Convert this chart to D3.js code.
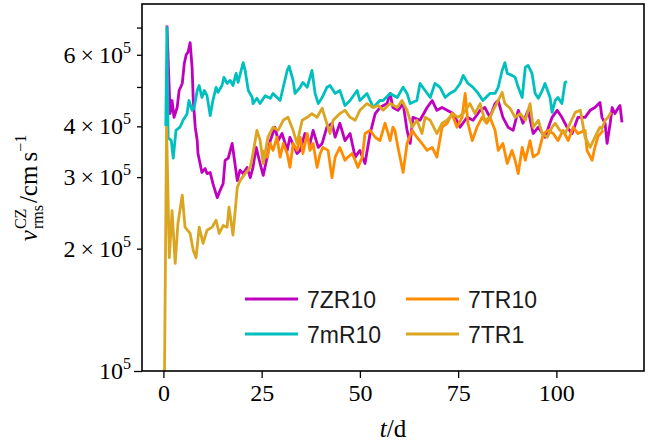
<!DOCTYPE html>
<html>
<head>
<meta charset="utf-8">
<script src="https://cdn.jsdelivr.net/npm/d3@7"></script>
<style>
  body { margin: 0; background: #fff; }
</style>
</head>
<body>
<svg id="chart" width="657" height="445"></svg>
<script>
// Convective-zone rms velocity, in units of 1e5 cm/s, against time in days.
const UNIT = 1e5;

const seriesNames  = ["7ZR10", "7mR10", "7TR10", "7TR1"];
const seriesColors = ["#bf00bf", "#00bfbf", "#ff8c00", "#daa520"];

// [t (d), v (1e5 cm/s)]
const zr10 = [
  [0.9,7.08],[1.7,4.30],[2.2,4.63],[2.7,4.21],[3.5,4.45],[4.0,4.90],[4.8,5.10],[5.3,5.70],
  [5.8,6.00],[6.3,6.10],[6.8,6.43],[7.3,5.58],[7.6,4.63],[8.1,3.98],[8.6,3.69],[8.8,3.43],
  [9.8,3.08],[10.6,3.15],[11.1,3.06],[11.9,3.08],[12.6,2.89],[13.7,2.67],[14.4,2.78],[15.2,2.89],
  [15.7,3.30],[16.5,3.34],[17.5,3.63],[18.2,3.24],[18.8,2.94],[19.5,3.12],[20.3,3.06],[21.3,3.17],
  [22.1,2.99],[22.8,3.17],[23.6,3.55],[24.6,3.24],[25.4,3.03],[26.4,3.36],[27.2,3.69],[28.4,3.98],
  [29.2,3.69],[30.2,3.84],[31.5,3.49],[32.2,3.76],[34.0,3.43],[34.8,3.49],[36.0,3.84],[37.3,3.63],
  [38.1,3.91],[39.4,3.55],[40.4,3.63],[41.6,3.98],[42.9,4.07],[43.7,3.76],[44.9,4.07],[46.2,3.69],
  [47.5,3.84],[48.8,3.36],[50.0,3.49],[51.3,3.24],[52.6,3.84],[53.9,4.30],[55.1,4.45],[56.9,4.55],
  [57.7,4.82],[58.4,4.45],[59.7,4.38],[61.0,4.55],[62.0,3.91],[62.8,3.63],[63.5,4.21],[65.3,4.14],
  [67.1,4.45],[68.4,4.63],[69.6,4.38],[70.9,4.45],[72.2,4.38],[73.7,4.30],[75.5,3.98],[77.3,4.21],
  [78.8,4.14],[80.6,4.38],[81.8,4.45],[83.1,4.21],[84.4,4.55],[85.2,4.63],[86.4,4.21],[87.7,3.98],
  [89.0,3.91],[90.3,4.38],[91.5,4.07],[92.8,4.38],[94.1,3.84],[95.4,3.98],[97.1,3.76],[98.9,4.21],
  [100.2,4.38],[101.4,4.21],[102.7,3.98],[104.0,3.84],[105.5,4.21],[107.3,4.21],[108.6,4.38],[109.8,4.45],
  [111.1,4.58],[111.6,4.21],[112.4,4.07],[112.9,3.63],[113.7,4.07],[114.2,4.45],[114.9,4.30],[115.7,4.43],
  [116.2,4.50],[116.7,4.09]
];

const mr10 = [
  [0.6,4.00],[0.9,7.00],[1.2,3.75],[2.0,3.69],[2.5,3.34],[3.2,3.91],[4.2,3.98],[5.0,4.14],
  [6.0,4.29],[6.5,4.63],[7.3,4.38],[7.8,4.43],[8.6,4.90],[9.1,5.04],[9.8,4.71],[10.4,4.90],
  [11.1,4.76],[11.9,4.25],[12.6,4.63],[13.4,4.99],[13.9,4.85],[14.9,5.04],[15.4,5.28],[16.2,5.10],
  [17.0,5.19],[17.7,5.04],[18.5,5.40],[19.0,5.13],[20.3,5.74],[20.8,5.49],[21.6,4.90],[22.6,4.71],
  [22.8,4.55],[23.8,4.69],[24.6,4.55],[25.9,4.76],[27.2,4.69],[27.9,4.82],[29.7,4.63],[31.5,5.49],
  [32.0,5.62],[33.0,5.19],[33.5,4.82],[34.8,4.99],[35.5,5.13],[36.6,4.99],[37.8,5.49],[38.6,4.82],
  [39.4,4.55],[40.4,4.71],[41.6,4.99],[42.4,5.04],[43.7,4.82],[44.9,4.90],[46.2,4.50],[47.5,4.63],
  [49.3,4.90],[50.0,4.63],[51.8,4.82],[53.4,4.45],[55.1,4.63],[55.9,4.63],[57.7,4.82],[59.5,4.71],
  [61.0,4.99],[62.0,4.82],[62.8,4.55],[64.5,4.63],[65.3,5.10],[66.6,4.90],[67.9,4.71],[69.1,5.10],
  [70.4,4.99],[71.7,4.71],[72.9,4.82],[74.2,4.90],[75.5,5.10],[76.3,5.34],[77.5,5.10],[78.8,4.99],
  [80.1,4.82],[81.3,4.63],[83.1,4.82],[84.4,4.82],[85.2,4.99],[86.2,5.49],[86.9,5.74],[87.5,5.40],
  [88.7,5.34],[89.5,5.28],[90.3,4.99],[91.3,4.71],[92.1,5.59],[92.8,5.65],[93.8,5.40],[94.6,4.82],
  [95.4,4.69],[96.4,4.90],[97.1,5.10],[98.4,4.71],[98.9,4.33],[99.7,4.63],[100.4,4.71],[101.4,4.55],
  [102.2,5.13],[102.7,5.16]
];

const tr10 = [
  [25.1,3.49],[26.4,3.36],[27.2,3.63],[27.9,3.49],[28.9,3.76],[29.7,3.36],[30.5,3.63],[31.5,3.43],
  [32.2,3.17],[33.0,3.63],[34.0,3.49],[34.8,3.76],[35.5,3.43],[36.6,3.84],[37.3,3.49],[38.1,3.63],
  [39.1,3.17],[39.9,3.43],[40.6,3.55],[41.9,3.49],[42.9,2.99],[43.7,3.36],[44.9,3.55],[46.2,3.30],
  [47.0,3.36],[48.0,3.43],[48.8,3.30],[49.5,3.17],[50.6,3.36],[51.3,3.84],[52.6,3.91],[53.9,3.76],
  [55.1,3.69],[56.4,4.07],[57.2,3.84],[57.7,3.69],[58.4,3.98],[58.9,3.91],[59.7,3.55],[61.0,3.08],
  [62.0,3.63],[63.3,3.91],[64.5,3.76],[65.8,3.63],[67.1,3.49],[68.4,3.55],[69.6,3.36],[70.9,3.98],
  [72.2,4.07],[73.4,4.30],[74.7,3.98],[76.0,4.21],[76.8,4.82],[77.5,4.07],[78.6,3.69],[79.8,3.98],
  [81.1,4.21],[82.3,4.07],[83.1,4.21],[84.4,3.91],[85.2,3.49],[86.4,3.63],[87.5,3.24],[88.7,3.49],
  [89.5,3.30],[90.3,3.06],[91.3,3.55],[92.1,3.30],[93.3,3.69],[94.1,3.36],[95.4,3.43],[96.7,3.84],
  [97.9,3.91],[99.2,3.84],[100.4,3.69],[101.7,3.91],[103.0,3.69],[104.3,3.98],[105.5,3.84],[107.3,3.91],
  [107.8,3.49],[109.1,3.30],[109.8,3.55],[110.6,3.78],[111.9,3.91]
];

const tr1 = [
  [0.2,0.80],[0.8,3.98],[1.5,1.90],[2.2,2.48],[3.0,1.84],[3.7,2.31],[4.8,2.71],[5.5,2.26],
  [6.8,2.18],[7.6,1.98],[8.3,1.90],[9.1,2.26],[10.1,2.06],[11.1,2.22],[12.4,2.26],[13.4,2.35],
  [14.2,2.18],[15.2,2.28],[16.2,2.26],[16.7,2.53],[17.7,2.16],[18.8,2.83],[19.5,2.94],[20.8,3.06],
  [22.1,3.17],[22.8,3.43],[23.8,3.91],[24.6,3.70],[25.4,3.24],[26.6,3.76],[27.9,3.98],[29.2,3.91],
  [30.5,4.14],[31.7,4.21],[33.0,3.91],[34.0,3.63],[35.3,4.14],[36.6,4.21],[37.8,4.30],[39.1,4.21],
  [40.4,4.43],[41.1,4.21],[42.4,3.84],[43.2,4.14],[44.9,4.30],[46.2,4.38],[47.5,4.21],[48.8,4.14],
  [50.0,4.38],[51.8,4.55],[53.4,4.45],[54.7,4.50],[55.9,4.38],[57.7,4.55],[59.5,4.45],[60.7,4.63],
  [62.0,4.38],[63.3,3.98],[64.5,4.14],[65.8,3.84],[66.6,4.21],[67.9,4.14],[69.6,3.84],[70.9,4.07],
  [72.2,4.14],[73.7,4.30],[74.9,4.21],[76.3,4.30],[78.0,4.55],[79.3,4.30],[80.6,4.55],[81.8,4.14],
  [83.1,4.21],[83.9,4.38],[85.2,4.63],[86.2,4.85],[86.9,4.55],[88.2,4.43],[89.5,4.21],[90.8,4.30],
  [92.1,4.14],[93.3,4.55],[94.1,3.98],[95.4,4.14],[96.4,3.84],[97.7,3.76],[98.9,3.98],[99.7,4.07],
  [100.9,3.91],[102.2,3.84],[103.5,4.07],[104.8,4.33],[106.1,4.38],[107.3,3.76],[108.6,3.55],[109.8,3.76],
  [111.1,3.98],[111.6,3.95],[112.4,4.14],[113.2,4.21],[113.9,4.33]
];

const seriesData = [zr10, mr10, tr10, tr1];

const xTickValues     = [0, 25, 50, 75, 100];
const yMajorTicks     = [1];
const yMinorTicks     = [2, 3, 4, 5, 6, 7];
const yLabelledTicks  = [1, 2, 3, 4, 6];

// ---- layout ----
const plot = { left: 142, right: 644, top: 4, bottom: 371 };
const SERIF = "'Liberation Serif', 'Times New Roman', serif";
const SANS  = "'Liberation Sans', Arial, sans-serif";

const svg = d3.select("#chart");

const x = d3.scaleLinear().domain([-5.45, 122.3]).range([plot.left, plot.right]);
const y = d3.scaleLog().domain([1 * UNIT, 8.0 * UNIT]).range([plot.bottom, plot.top]);

svg.append("defs").append("clipPath").attr("id", "plot-clip")
  .append("rect")
  .attr("x", plot.left).attr("y", plot.top)
  .attr("width", plot.right - plot.left).attr("height", plot.bottom - plot.top);

// ---- curves ----
const line = d3.line()
  .x(d => x(d[0]))
  .y(d => y(d[1] * UNIT));

svg.append("g").attr("clip-path", "url(#plot-clip)")
  .selectAll("path")
  .data(seriesData)
  .join("path")
  .attr("d", line)
  .attr("fill", "none")
  .attr("stroke", (d, i) => seriesColors[i])
  .attr("stroke-width", 2.8)
  .attr("stroke-linejoin", "round")
  .attr("stroke-linecap", "butt");

// ---- axes ----
function styleAxis(g) {
  g.select(".domain").remove();
  g.selectAll(".tick line").attr("stroke", "#000").attr("stroke-width", 1.3);
}

const xAxis = svg.append("g")
  .attr("transform", `translate(0,${plot.bottom})`)
  .call(d3.axisBottom(x).tickValues(xTickValues).tickSize(7).tickPadding(6).tickFormat(d3.format("d")))
  .call(styleAxis);
xAxis.selectAll(".tick text")
  .attr("y", 30).attr("dy", 0)
  .style("font-family", SERIF).style("font-size", "24px").attr("fill", "#000");

svg.append("g")
  .attr("transform", `translate(${plot.left},0)`)
  .call(d3.axisLeft(y).tickValues(yMajorTicks.map(d => d * UNIT)).tickSize(8).tickFormat(""))
  .call(styleAxis);

svg.append("g")
  .attr("transform", `translate(${plot.left},0)`)
  .call(d3.axisLeft(y).tickValues(yMinorTicks.map(d => d * UNIT)).tickSize(5).tickFormat(""))
  .call(styleAxis);

// y tick labels of the form "m × 10^5"
const yLab = svg.append("g")
  .selectAll("text")
  .data(yLabelledTicks)
  .join("text")
  .attr("x", 131)
  .attr("y", d => y(d * UNIT) + 8)
  .attr("text-anchor", "end")
  .style("font-family", SERIF)
  .style("font-size", "24px")
  .attr("fill", "#000");
yLab.each(function (d) {
  const t = d3.select(this);
  if (d !== 1) {
    t.append("tspan").text(d);
    t.append("tspan").attr("dx", 5).text("×");
    t.append("tspan").attr("dx", 5).text("10");
  } else {
    t.append("tspan").text("10");
  }
  t.append("tspan").attr("dy", -10).style("font-size", "16px").text("5");
});

// ---- frame ----
svg.append("rect")
  .attr("x", plot.left).attr("y", plot.top)
  .attr("width", plot.right - plot.left).attr("height", plot.bottom - plot.top)
  .attr("fill", "none").attr("stroke", "#000").attr("stroke-width", 1.6);

// ---- x label: t/d ----
const xl = svg.append("text")
  .attr("x", 393).attr("y", 437)
  .attr("text-anchor", "middle")
  .style("font-family", SERIF).style("font-size", "25px").attr("fill", "#000");
xl.append("tspan").style("font-style", "italic").text("t");
xl.append("tspan").text("/d");

// ---- y label: v_rms^CZ / cm s^-1 ----
const yl = svg.append("g").attr("transform", "translate(37,188) rotate(-90)");
const ylInner = yl.append("g");
let cx = 0;
function piece(txt, size, base, italic, advance = true) {
  const t = ylInner.append("text")
    .attr("x", cx).attr("y", base)
    .style("font-family", SERIF).style("font-size", size + "px")
    .style("font-style", italic ? "italic" : "normal")
    .attr("fill", "#000")
    .text(txt);
  const w = t.node().getComputedTextLength();
  if (advance) cx += w;
  return w;
}
piece("v", 25, 0, true);
cx += 1;
const stackStart = cx;
const wSup = piece("CZ", 16, -11, false, false);
const wSub = piece("rms", 16, 6, false, false);
cx = stackStart + Math.max(wSup, wSub) + 2;
piece("/", 25, 0, false);
piece("cm", 25, 0, false);
cx += 4;
piece("s", 25, 0, false);
piece("−1", 16, -11, false);
ylInner.attr("transform", `translate(${-cx / 2},0)`);

// ---- legend ----
const legend = svg.append("g");
const legendItems = legend.selectAll("g")
  .data(seriesNames)
  .join("g")
  .attr("transform", (d, i) => `translate(${245 + Math.floor(i / 2) * 161},${299 + (i % 2) * 35})`);
legendItems.append("line")
  .attr("x1", 0).attr("x2", 53).attr("y1", 0).attr("y2", 0)
  .attr("stroke", (d, i) => seriesColors[i])
  .attr("stroke-width", 2.8);
legendItems.append("text")
  .attr("x", 62).attr("y", 8.5)
  .style("font-family", SANS).style("font-size", "23px")
  .attr("fill", "#1a1a1a")
  .text(d => d);
</script>
</body>
</html>
